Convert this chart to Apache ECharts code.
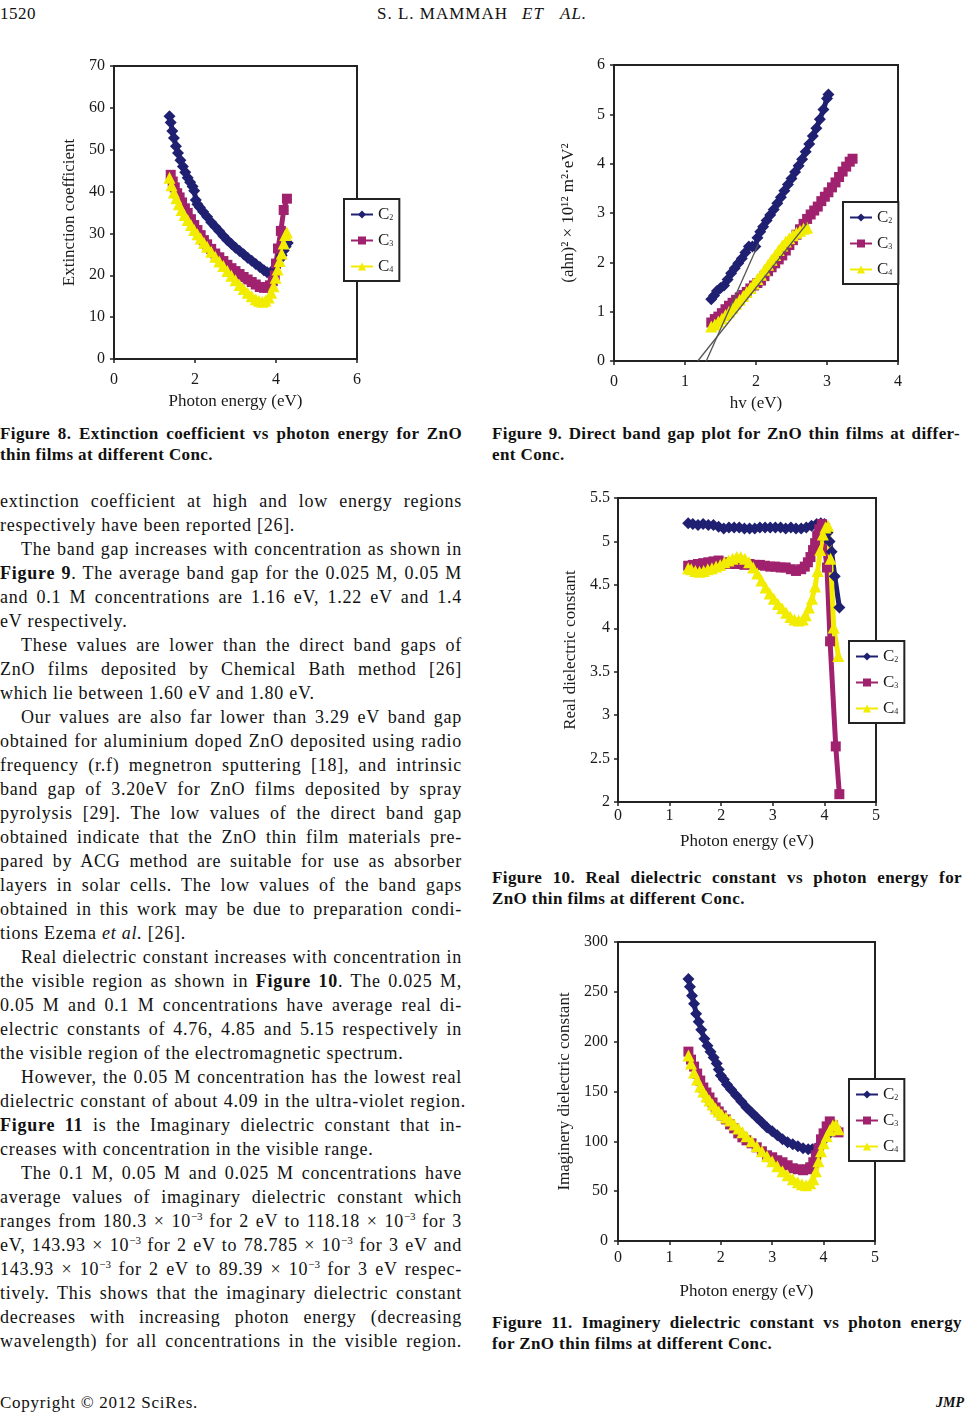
<!DOCTYPE html>
<html>
<head>
<meta charset="utf-8">
<script src="https://cdn.jsdelivr.net/npm/echarts/dist/echarts.min.js"></script>
<style>
html,body{margin:0;padding:0;background:#fff;}
#page{position:relative;width:965px;height:1414px;overflow:hidden;background:#fff;color:#111;font-family:'Liberation Serif','Times New Roman',serif;}
.ln{position:absolute;left:0;width:462px;height:24px;line-height:24px;font-size:18px;letter-spacing:0.75px;white-space:nowrap;}
.j{text-align:justify;text-align-last:justify;}
.i{text-indent:21px;}
.cap{position:absolute;height:21px;line-height:21px;font-size:17px;font-weight:bold;letter-spacing:0.4px;white-space:nowrap;}
.hd{position:absolute;top:4px;height:20px;line-height:20px;font-size:17px;letter-spacing:1px;white-space:nowrap;}
sup{font-size:11px;line-height:0;vertical-align:7px;letter-spacing:0;}
.chart{position:absolute;}
</style>
</head>
<body>
<div id="page">
  <div class="hd" style="left:0;letter-spacing:0.5px;">1520</div>
  <div class="hd" style="left:377px">S. L. MAMMAH</div>
  <div class="hd" style="left:522px"><i>ET</i></div>
  <div class="hd" style="left:560px"><i>AL.</i></div>

  <div id="c8" class="chart" style="left:40px;top:45px;width:380px;height:375px"></div>
  <div id="c9" class="chart" style="left:540px;top:45px;width:380px;height:375px"></div>
  <div id="c10" class="chart" style="left:540px;top:480px;width:380px;height:380px"></div>
  <div id="c11" class="chart" style="left:540px;top:925px;width:380px;height:385px"></div>

  <div id="text"></div>

  <div class="ln" style="top:1391px;font-size:17px;">Copyright © 2012 SciRes.</div>
  <div class="ln" style="top:1391px;left:936px;width:29px;font-size:14px;letter-spacing:0;"><b><i>JMP</i></b></div>
</div>
<script>
// ---------------- DATA ----------------
// Figure 8: extinction coefficient vs photon energy (eV)
const fig8_C2 = [[1.37,58.0],[1.40,56.5],[1.44,54.5],[1.48,52.8],[1.53,50.8],[1.58,49.2],[1.64,47.5],[1.70,46.0],[1.76,44.6],[1.82,43.3],[1.88,42.2],[1.94,41.2],[1.98,40.2],[2.02,38.0],[2.06,37.0],[2.12,36.2],[2.20,35.2],[2.30,34.0],[2.40,32.7],[2.50,31.6],[2.60,30.5],[2.70,29.4],[2.80,28.4],[2.90,27.5],[3.00,26.6],[3.10,25.8],[3.20,25.0],[3.30,24.2],[3.40,23.5],[3.50,22.7],[3.60,22.0],[3.70,21.2],[3.78,20.7],[3.86,20.5],[3.93,21.0],[3.98,21.8],[4.04,22.8],[4.09,23.8],[4.14,24.8],[4.19,25.9],[4.24,26.9],[4.29,27.7]];
const fig8_C3 = [[1.40,44.0],[1.45,42.4],[1.50,41.0],[1.56,39.6],[1.62,38.6],[1.68,37.4],[1.75,36.0],[1.82,34.9],[1.90,33.4],[1.98,32.0],[2.06,30.8],[2.14,29.6],[2.22,28.4],[2.30,27.4],[2.40,26.3],[2.50,25.2],[2.60,24.3],[2.70,23.4],[2.80,22.5],[2.90,21.7],[3.00,21.0],[3.10,20.3],[3.20,19.6],[3.30,19.0],[3.40,18.4],[3.50,17.8],[3.60,17.2],[3.70,17.0],[3.78,17.1],[3.85,17.6],[3.92,18.6],[3.97,20.0],[4.00,22.8],[4.05,26.4],[4.12,30.6],[4.19,35.6],[4.27,38.3]];
const fig8_C4 = [[1.37,43.3],[1.42,41.5],[1.48,39.8],[1.54,38.4],[1.60,37.0],[1.67,35.6],[1.74,34.4],[1.82,33.2],[1.90,32.0],[1.98,30.8],[2.06,29.8],[2.14,28.8],[2.22,27.8],[2.30,26.8],[2.40,25.6],[2.50,24.4],[2.60,23.3],[2.70,22.2],[2.80,21.0],[2.90,19.9],[3.00,18.8],[3.10,17.7],[3.20,16.7],[3.30,15.8],[3.40,15.0],[3.50,14.3],[3.58,13.9],[3.66,13.7],[3.74,13.9],[3.82,14.7],[3.88,15.8],[3.94,17.4],[3.99,19.4],[4.04,21.4],[4.09,23.4],[4.14,25.2],[4.19,27.6],[4.23,29.6],[4.27,30.2]];

// Figure 9: (ahn)^2 x 10^12 vs hv (eV)
const fig9_C2 = [[1.37,1.25],[1.41,1.33],[1.45,1.42],[1.50,1.48],[1.55,1.53],[1.60,1.65],[1.65,1.78],[1.70,1.88],[1.75,1.98],[1.80,2.08],[1.85,2.20],[1.90,2.32],[1.95,2.32],[1.99,2.32],[2.02,2.50],[2.06,2.62],[2.10,2.72],[2.15,2.85],[2.20,2.96],[2.25,3.07],[2.30,3.20],[2.35,3.32],[2.40,3.45],[2.45,3.58],[2.50,3.70],[2.55,3.83],[2.60,3.96],[2.65,4.09],[2.70,4.24],[2.75,4.40],[2.80,4.56],[2.85,4.72],[2.90,4.90],[2.95,5.10],[3.00,5.32],[3.02,5.40]];
const fig9_C3 = [[1.37,0.78],[1.42,0.85],[1.47,0.90],[1.52,0.97],[1.57,1.05],[1.62,1.12],[1.67,1.18],[1.72,1.24],[1.77,1.29],[1.82,1.34],[1.87,1.40],[1.92,1.47],[1.97,1.53],[2.02,1.58],[2.07,1.63],[2.12,1.72],[2.17,1.82],[2.22,1.90],[2.27,1.98],[2.32,2.06],[2.37,2.14],[2.42,2.24],[2.47,2.35],[2.52,2.45],[2.57,2.56],[2.62,2.67],[2.67,2.78],[2.72,2.88],[2.77,2.97],[2.82,3.05],[2.87,3.13],[2.92,3.24],[2.97,3.33],[3.02,3.42],[3.07,3.52],[3.12,3.62],[3.17,3.73],[3.22,3.84],[3.27,3.94],[3.32,4.04],[3.36,4.10]];
const fig9_C4 = [[1.37,0.70],[1.42,0.74],[1.47,0.80],[1.52,0.86],[1.57,0.93],[1.62,1.00],[1.67,1.08],[1.72,1.16],[1.77,1.24],[1.82,1.32],[1.87,1.40],[1.92,1.48],[1.97,1.57],[2.02,1.66],[2.07,1.75],[2.12,1.85],[2.17,1.95],[2.22,2.05],[2.27,2.15],[2.32,2.25],[2.37,2.34],[2.42,2.42],[2.47,2.49],[2.52,2.55],[2.57,2.60],[2.62,2.64],[2.67,2.68],[2.72,2.70]];
const fig9_fitA = [[1.18,0],[2.72,2.79]];
const fig9_fitB = [[1.30,0],[2.03,2.36]];

// Figure 10: real dielectric constant vs photon energy (eV)
const fig10_C2 = [[1.36,5.21],[1.45,5.20],[1.55,5.19],[1.65,5.20],[1.75,5.19],[1.85,5.19],[1.95,5.17],[2.05,5.15],[2.15,5.16],[2.25,5.16],[2.35,5.16],[2.45,5.15],[2.55,5.15],[2.65,5.15],[2.75,5.16],[2.85,5.16],[2.95,5.16],[3.05,5.16],[3.15,5.16],[3.25,5.15],[3.35,5.16],[3.45,5.15],[3.55,5.15],[3.65,5.16],[3.75,5.18],[3.85,5.20],[3.93,5.21],[4.00,5.20],[4.06,5.10],[4.10,5.00],[4.14,4.88],[4.20,4.60],[4.29,4.24]];
const fig10_C3 = [[1.36,4.72],[1.45,4.73],[1.55,4.74],[1.65,4.75],[1.75,4.76],[1.85,4.77],[1.95,4.78],[2.05,4.76],[2.15,4.74],[2.25,4.74],[2.35,4.74],[2.45,4.73],[2.55,4.74],[2.65,4.73],[2.75,4.73],[2.85,4.72],[2.95,4.71],[3.05,4.71],[3.15,4.70],[3.25,4.70],[3.35,4.68],[3.45,4.66],[3.55,4.68],[3.62,4.71],[3.68,4.76],[3.73,4.82],[3.78,4.90],[3.82,4.98],[3.86,5.07],[3.90,5.14],[3.95,5.20],[4.05,4.70],[4.11,3.85],[4.22,2.64],[4.29,2.09]];
const fig10_C4 = [[1.36,4.69],[1.42,4.68],[1.50,4.66],[1.58,4.65],[1.66,4.66],[1.74,4.68],[1.82,4.69],[1.90,4.71],[1.98,4.73],[2.06,4.76],[2.14,4.78],[2.22,4.80],[2.30,4.82],[2.38,4.82],[2.46,4.80],[2.54,4.76],[2.62,4.70],[2.70,4.63],[2.78,4.55],[2.86,4.47],[2.94,4.40],[3.02,4.34],[3.10,4.28],[3.18,4.23],[3.26,4.18],[3.34,4.13],[3.42,4.10],[3.50,4.09],[3.58,4.10],[3.64,4.15],[3.70,4.24],[3.76,4.34],[3.82,4.48],[3.87,4.66],[3.92,4.90],[3.97,5.08],[4.02,5.16],[4.07,5.18],[4.12,4.80],[4.18,4.01],[4.27,3.68]];

// Figure 11: imaginary dielectric constant vs photon energy (eV)
const fig11_C2 = [[1.37,263],[1.40,255],[1.44,246],[1.48,238],[1.52,228],[1.57,220],[1.62,212],[1.68,203],[1.74,196],[1.80,190],[1.86,184],[1.92,178],[1.96,172],[2.00,166],[2.06,162],[2.12,157],[2.20,152],[2.30,146],[2.40,140],[2.50,134],[2.60,129],[2.70,124],[2.80,119],[2.90,114],[3.00,110],[3.10,106],[3.20,102],[3.30,99],[3.40,97],[3.50,95],[3.60,93],[3.70,92],[3.78,92],[3.86,93],[3.94,97],[4.00,101],[4.06,105],[4.12,110],[4.18,113]];
const fig11_C3 = [[1.37,190],[1.42,182],[1.48,175],[1.54,168],[1.60,161],[1.66,154],[1.72,149],[1.78,144],[1.84,139],[1.90,134],[1.96,130],[2.02,126],[2.10,122],[2.18,117],[2.26,113],[2.34,108],[2.42,104],[2.50,101],[2.60,98],[2.70,94],[2.80,90],[2.90,86],[3.00,84],[3.10,81],[3.20,79],[3.30,76],[3.40,73],[3.50,72],[3.60,71],[3.68,72],[3.74,74],[3.80,79],[3.85,86],[3.90,93],[3.95,102],[4.00,108],[4.06,115],[4.12,120],[4.18,116],[4.24,110],[4.29,109]];
const fig11_C4 = [[1.37,186],[1.42,178],[1.48,169],[1.54,162],[1.60,155],[1.66,150],[1.72,145],[1.78,141],[1.84,137],[1.90,133],[1.96,130],[2.02,127],[2.10,124],[2.18,121],[2.26,117],[2.34,113],[2.42,109],[2.50,105],[2.60,100],[2.70,95],[2.80,90],[2.90,85],[3.00,80],[3.10,75],[3.20,70],[3.30,66],[3.40,62],[3.50,59],[3.58,57],[3.66,56],[3.74,58],[3.80,62],[3.85,70],[3.90,80],[3.95,90],[4.00,98],[4.06,105],[4.12,111],[4.18,116],[4.24,117],[4.29,112]];

const seriesNames = ['C2','C3','C4'];

// ---------------- TEXT ----------------
const bodyLines = [
 ['j','extinction coefficient at high and low energy regions'],
 ['l','respectively have been reported [26].'],
 ['i','The band gap increases with concentration as shown in'],
 ['j','<b>Figure 9</b>. The average band gap for the 0.025 M, 0.05 M'],
 ['j','and 0.1 M concentrations are 1.16 eV, 1.22 eV and 1.4'],
 ['l','eV respectively.'],
 ['i','These values are lower than the direct band gaps of'],
 ['j','ZnO films deposited by Chemical Bath method [26]'],
 ['l','which lie between 1.60 eV and 1.80 eV.'],
 ['i','Our values are also far lower than 3.29 eV band gap'],
 ['j','obtained for aluminium doped ZnO deposited using radio'],
 ['j','frequency (r.f) megnetron sputtering [18], and intrinsic'],
 ['j','band gap of 3.20eV for ZnO films deposited by spray'],
 ['j','pyrolysis [29]. The low values of the direct band gap'],
 ['j','obtained indicate that the ZnO thin film materials pre-'],
 ['j','pared by ACG method are suitable for use as absorber'],
 ['j','layers in solar cells. The low values of the band gaps'],
 ['j','obtained in this work may be due to preparation condi-'],
 ['l','tions Ezema <i>et al.</i> [26].'],
 ['i','Real dielectric constant increases with concentration in'],
 ['j','the visible region as shown in <b>Figure 10</b>. The 0.025 M,'],
 ['j','0.05 M and 0.1 M concentrations have average real di-'],
 ['j','electric constants of 4.76, 4.85 and 5.15 respectively in'],
 ['l','the visible region of the electromagnetic spectrum.'],
 ['i','However, the 0.05 M concentration has the lowest real'],
 ['w','dielectric constant of about 4.09 in the ultra-violet region.'],
 ['j','<b>Figure 11</b> is the Imaginary dielectric constant that in-'],
 ['l','creases with concentration in the visible range.'],
 ['i','The 0.1 M, 0.05 M and 0.025 M concentrations have'],
 ['j','average values of imaginary dielectric constant which'],
 ['j','ranges from 180.3 × 10<sup>−3</sup> for 2 eV to 118.18 × 10<sup>−3</sup> for 3'],
 ['j','eV, 143.93 × 10<sup>−3</sup> for 2 eV to 78.785 × 10<sup>−3</sup> for 3 eV and'],
 ['j','143.93 × 10<sup>−3</sup> for 2 eV to 89.39 × 10<sup>−3</sup> for 3 eV respec-'],
 ['j','tively. This shows that the imaginary dielectric constant'],
 ['j','decreases with increasing photon energy (decreasing'],
 ['j','wavelength) for all concentrations in the visible region.']
];
const captions = [
 {left:0, width:462, top:423, lines:['Figure 8. Extinction coefficient vs photon energy for ZnO','thin films at different Conc.']},
 {left:492, width:468, top:423, lines:['Figure 9. Direct band gap plot for ZnO thin films at differ-','ent Conc.']},
 {left:492, width:470, top:867, lines:['Figure 10. Real dielectric constant vs photon energy for','ZnO thin films at different Conc.']},
 {left:492, width:470, top:1312, lines:['Figure 11. Imaginery dielectric constant vs photon energy','for ZnO thin films at different Conc.']}
];

const textRoot = document.getElementById('text');
bodyLines.forEach(function(l, k){
  const d = document.createElement('div');
  d.className = 'ln' + (l[0]==='l' ? '' : ' j') + (l[0]==='i' ? ' i' : '');
  d.style.top = (489 + 24*k) + 'px';
  if (l[0]==='w') d.style.width = '466px';
  d.innerHTML = l[1];
  textRoot.appendChild(d);
});
captions.forEach(function(c){
  c.lines.forEach(function(t, k){
    const d = document.createElement('div');
    d.className = 'cap' + (k===0 ? ' j' : '');
    d.style.left = c.left + 'px';
    d.style.width = c.width + 'px';
    d.style.top = (c.top + 21*k) + 'px';
    d.textContent = t;
    textRoot.appendChild(d);
  });
});

// ---------------- CHARTS ----------------
const FONT = "'Liberation Serif','Times New Roman',serif";
const INK = '#1a1a1a';
const COLORS = {C2:'#202072', C3:'#a0226e', C4:'#f2ec00'};
const SYMBOLS = {C2:'diamond', C3:'rect', C4:'triangle'};

function dataSeries(name, data){
  return {
    type:'line', name:name, data:data,
    symbol:SYMBOLS[name], symbolSize:(name==='C2'?12:(name==='C3'?10:12)), showSymbol:true,
    lineStyle:{color:COLORS[name], width:5},
    itemStyle:{color:COLORS[name]},
    emphasis:{disabled:true}, silent:true, animation:false
  };
}
function fitSeries(data){
  return {type:'line', data:data, symbol:'none', lineStyle:{color:'#555', width:1.3},
          silent:true, animation:false, z:5};
}
function axis(o){
  return {
    type:'value', min:o.min, max:o.max, interval:o.interval,
    name:o.name, nameLocation:'middle', nameGap:o.nameGap,
    nameTextStyle:{fontFamily:FONT, fontSize:17, color:INK},
    axisLine:{show:true, onZero:false, lineStyle:{color:'#222', width:2}},
    axisTick:{show:true, length:4, lineStyle:{color:'#222', width:1.5}},
    axisLabel:{fontFamily:FONT, fontSize:16, color:INK, margin:o.margin},
    splitLine:{show:false}
  };
}
function makeChart(id, box, g, xo, yo, leg, series){
  const chart = echarts.init(document.getElementById(id), null, {renderer:'canvas'});
  chart.setOption({
    animation:false,
    grid:{left:g.l-box.l, top:g.t-box.t, width:g.r-g.l, height:g.b-g.t,
          show:true, borderColor:'#222', borderWidth:2, backgroundColor:'#fff'},
    xAxis:axis(xo),
    yAxis:axis(yo),
    legend:{
      show:true, orient:'vertical', left:leg.x-box.l, top:leg.y-box.t,
      data:seriesNames, selectedMode:false,
      itemWidth:22, itemHeight:10, itemGap:9, padding:[7,6,6,6],
      borderColor:'#222', borderWidth:2, backgroundColor:'#fff',
      formatter:function(n){ return 'C{s|' + n.slice(1) + '}'; },
      textStyle:{fontFamily:FONT, fontSize:17, color:INK, lineHeight:15,
        rich:{s:{fontFamily:FONT, fontSize:8, color:INK, verticalAlign:'bottom', lineHeight:9}}}
    },
    series:series
  });
}

makeChart('c8', {l:40,t:45}, {l:114,t:66,r:357,b:359},
  {min:0,max:6,interval:2,name:'Photon energy (eV)',nameGap:33,margin:13},
  {min:0,max:70,interval:10,name:'Extinction coefficient',nameGap:35,margin:9},
  {x:344,y:199},
  [dataSeries('C2',fig8_C2), dataSeries('C3',fig8_C3), dataSeries('C4',fig8_C4)]);

makeChart('c9', {l:540,t:45}, {l:614,t:65,r:898,b:361},
  {min:0,max:4,interval:1,name:'hv (eV)',nameGap:28,margin:13},
  {min:0,max:6,interval:1,name:'(ahn)² × 10¹² m²·eV²',nameGap:37,margin:9},
  {x:843,y:202},
  [dataSeries('C2',fig9_C2), dataSeries('C3',fig9_C3), dataSeries('C4',fig9_C4),
   fitSeries(fig9_fitA), fitSeries(fig9_fitB)]);

makeChart('c10', {l:540,t:480}, {l:618,t:498,r:876,b:802},
  {min:0,max:5,interval:1,name:'Photon energy (eV)',nameGap:31,margin:6},
  {min:2,max:5.5,interval:0.5,name:'Real dielectric constant',nameGap:36,margin:8},
  {x:849,y:641},
  [dataSeries('C2',fig10_C2), dataSeries('C3',fig10_C3), dataSeries('C4',fig10_C4)]);

makeChart('c11', {l:540,t:925}, {l:618,t:942,r:875,b:1241},
  {min:0,max:5,interval:1,name:'Photon energy (eV)',nameGap:42,margin:9},
  {min:0,max:300,interval:50,name:'Imaginery dielectric constant',nameGap:39,margin:10},
  {x:849,y:1079},
  [dataSeries('C2',fig11_C2), dataSeries('C3',fig11_C3), dataSeries('C4',fig11_C4)]);
</script>
</body>
</html>
